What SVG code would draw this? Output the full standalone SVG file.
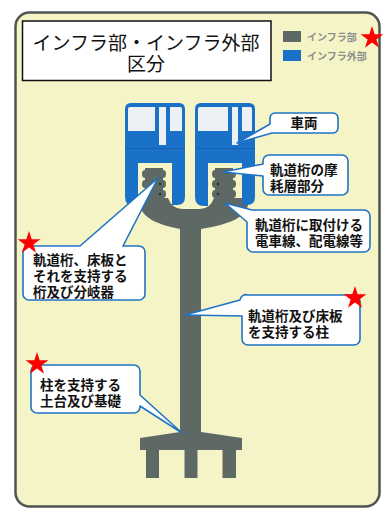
<svg xmlns="http://www.w3.org/2000/svg" xmlns:xlink="http://www.w3.org/1999/xlink" width="385" height="511" viewBox="0 0 385 511">
  <style>
    .panel { fill: #f5f4c7; stroke: #4f5552; stroke-width: 2.5; }
    .title-box { fill: #ffffff; stroke: #111111; stroke-width: 1.5; }
    .title { font-family: "Liberation Sans", "Noto Sans CJK JP", sans-serif; font-size: 19px; fill: #111111; text-anchor: middle; }
    .legend { font-family: "Liberation Sans", "Noto Sans CJK JP", sans-serif; font-size: 10px; font-weight: bold; fill: #8a8f8c; }
    .infra { fill: #5e6965; }
    .car { fill: #1a72c8; }
    .glass { fill: #edf0f4; }
    .callout { fill: #ffffff; stroke: #1f73c4; stroke-width: 1.6; stroke-linejoin: round; }
    .label { font-family: "Liberation Sans", "Noto Sans CJK JP", sans-serif; font-size: 13.5px; font-weight: bold; fill: #111111; }
    .star { fill: #ff0000; }
  </style>
  <defs>
    <path id="star" d="M0,-12 L2.7,-3.72 L11.41,-3.71 L4.37,1.42 L7.05,9.71 L0,4.6 L-7.05,9.71 L-4.37,1.42 L-11.41,-3.71 L-2.7,-3.72 Z"/>
  </defs>

  <!-- background panel -->
  <rect class="panel" x="15.5" y="12.5" width="364" height="494" rx="14"/>

  <!-- title -->
  <g id="title">
    <rect class="title-box" x="22.5" y="21" width="248.5" height="59.5"/>
    <text class="title" x="146" y="49.5">インフラ部・インフラ外部</text>
    <text class="title" x="146" y="71">区分</text>
  </g>

  <!-- legend -->
  <g id="legend">
    <rect class="infra" x="283" y="31" width="18" height="11"/>
    <text class="legend" x="307" y="40.5">インフラ部</text>
    <rect class="car" x="283" y="50" width="18" height="11"/>
    <text class="legend" x="307" y="59.5">インフラ外部</text>
  </g>

  <!-- pier: cap arms, column, footing and piles -->
  <g id="pier">
    <path class="infra" d="M140,198 H168 Q172,209 182,209 H200 Q210,209 214,198 H248 V205 Q246,222 201,229 V434 H180 V229 Q142,222 140,205 Z"/>
    <path class="infra" d="M140,438 L180,432 H201 L242,438 V450 H140 Z"/>
    <rect class="infra" x="146" y="449" width="13" height="29"/>
    <rect class="infra" x="184.5" y="449" width="13" height="29"/>
    <rect class="infra" x="222.5" y="449" width="13.5" height="29"/>
  </g>

  <!-- track beams with guide wheels -->
  <g id="beams">
    <g class="infra">
      <rect x="145" y="168" width="18" height="34"/>
      <ellipse cx="145" cy="174" rx="3" ry="4"/>
      <ellipse cx="145" cy="184" rx="3" ry="4"/>
      <ellipse cx="145" cy="194" rx="3" ry="4"/>
      <ellipse cx="163" cy="174" rx="3" ry="4"/>
      <ellipse cx="163" cy="184" rx="3" ry="4"/>
      <ellipse cx="163" cy="194" rx="3" ry="4"/>
      <rect x="215" y="168" width="18" height="34"/>
      <ellipse cx="215" cy="174" rx="3" ry="4"/>
      <ellipse cx="215" cy="184" rx="3" ry="4"/>
      <ellipse cx="215" cy="194" rx="3" ry="4"/>
      <ellipse cx="233" cy="174" rx="3" ry="4"/>
      <ellipse cx="233" cy="184" rx="3" ry="4"/>
      <ellipse cx="233" cy="194" rx="3" ry="4"/>
    </g>
    <g fill="#2c3330">
      <circle cx="160" cy="184" r="1.3"/>
      <circle cx="160" cy="194" r="1.3"/>
      <circle cx="218" cy="184" r="1.3"/>
      <circle cx="218" cy="194" r="1.3"/>
    </g>
  </g>

  <!-- monorail cars -->
  <g id="car-left">
    <path class="car" d="M131,103 H179 Q185,103 185,109 V197 Q185,205 177,205 H172 V163 H138 V206 H134 Q125,206 125,197 V109 Q125,103 131,103 Z"/>
    <path class="glass" d="M130,107 H155 V131 H128 V109 Q128,107 130,107 Z"/>
    <rect class="glass" x="159" y="107" width="7" height="38"/>
    <path class="glass" d="M170,107 H180 Q182,107 182,109 V131 H170 Z"/>
    <line x1="125" y1="148.5" x2="185" y2="148.5" stroke="#1660ad" stroke-width="1"/>
  </g>
  <g id="car-right">
    <path class="car" d="M201,103 H249 Q255,103 255,109 V197 Q255,205 247,205 H242 V163 H208 V206 H204 Q195,206 195,197 V109 Q195,103 201,103 Z"/>
    <path class="glass" d="M200,107 H228 V131 H198 V109 Q198,107 200,107 Z"/>
    <rect class="glass" x="232" y="107" width="6" height="38"/>
    <path class="glass" d="M242,107 H250 Q252,107 252,109 V131 H242 Z"/>
    <line x1="195" y1="148.5" x2="255" y2="148.5" stroke="#1660ad" stroke-width="1"/>
  </g>

  <!-- callouts -->
  <g id="callout-car">
    <path class="callout" d="M275,113 H333 A5,5 0 0 1 338,118 V128 A5,5 0 0 1 333,133 H272 L237,143 L270,124 V118 A5,5 0 0 1 275,113 Z"/>
    <text class="label" x="304" y="128" text-anchor="middle">車両</text>
  </g>
  <g id="callout-wear">
    <path class="callout" d="M269,155 H342 A6,6 0 0 1 348,161 V189 A6,6 0 0 1 342,195 H269 A6,6 0 0 1 263,189 V176 L223,172 L263,164 V161 A6,6 0 0 1 269,155 Z"/>
    <text class="label" x="270" y="175">軌道桁の摩</text>
    <text class="label" x="270" y="191">耗層部分</text>
  </g>
  <g id="callout-wires">
    <path class="callout" d="M253,210 H364 A6,6 0 0 1 370,216 V246 A6,6 0 0 1 364,252 H253 A6,6 0 0 1 247,246 V222 L225,203 L252,210 Z"/>
    <text class="label" x="255" y="230">軌道桁に取付ける</text>
    <text class="label" x="255" y="246">電車線、配電線等</text>
  </g>
  <g id="callout-girder">
    <path class="callout" d="M29,246 H80 L158,178 L123,246 H139 A6,6 0 0 1 145,252 V294 A6,6 0 0 1 139,300 H29 A6,6 0 0 1 23,294 V252 A6,6 0 0 1 29,246 Z"/>
    <text class="label" x="33" y="265">軌道桁、床板と</text>
    <text class="label" x="33" y="281">それを支持する</text>
    <text class="label" x="33" y="297">桁及び分岐器</text>
  </g>
  <g id="callout-column">
    <path class="callout" d="M248,295 H354 A6,6 0 0 1 360,301 V339 A6,6 0 0 1 354,345 H248 A6,6 0 0 1 242,339 V316 L185,315 L240,300 A6,6 0 0 1 248,295 Z"/>
    <text class="label" x="248" y="321">軌道桁及び床板</text>
    <text class="label" x="248" y="337">を支持する柱</text>
  </g>
  <g id="callout-footing">
    <path class="callout" d="M37,365 H134 A6,6 0 0 1 140,371 V395 L182,433 L140,406 V407 A6,6 0 0 1 134,413 H37 A6,6 0 0 1 31,407 V371 A6,6 0 0 1 37,365 Z"/>
    <text class="label" x="40" y="390">柱を支持する</text>
    <text class="label" x="40" y="406">土台及び基礎</text>
  </g>

  <!-- red stars -->
  <g id="stars" class="star">
    <use xlink:href="#star" x="372" y="38"/>
    <use xlink:href="#star" x="29" y="243"/>
    <use xlink:href="#star" x="355" y="298"/>
    <use xlink:href="#star" x="37" y="364"/>
  </g>
</svg>
